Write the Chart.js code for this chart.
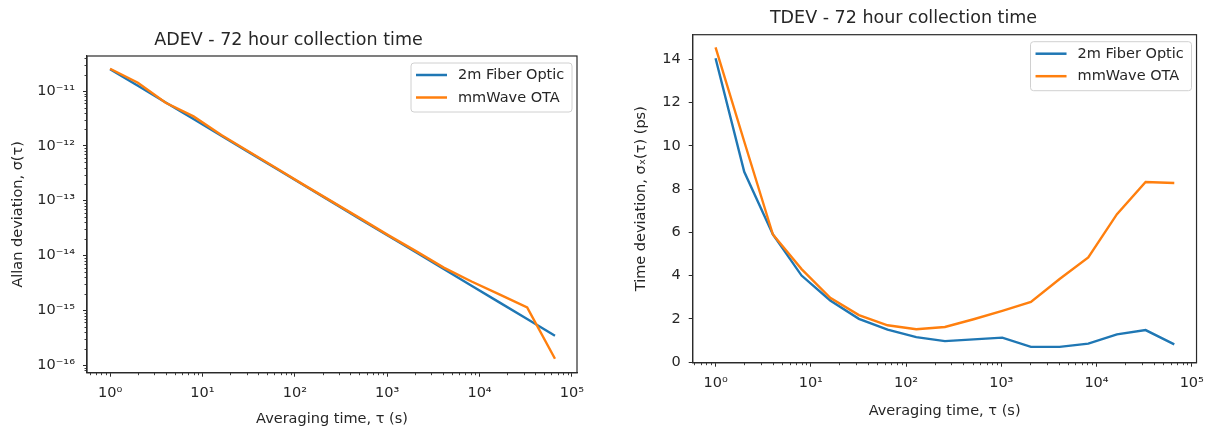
<!DOCTYPE html>
<html>
<head>
<meta charset="utf-8">
<script src="https://cdn.jsdelivr.net/npm/chart.js@4.4.1/dist/chart.umd.min.js"></script>
<style>
  html, body { margin: 0; padding: 0; background: #ffffff; }
  #wrap { position: relative; width: 1212px; height: 430px; overflow: hidden; background: #fff; }
  canvas { position: absolute; top: 0; }
</style>
</head>
<body>
<div id="wrap">
  <canvas id="adev" width="606" height="430" style="left:0px"></canvas>
  <canvas id="tdev" width="606" height="430" style="left:606px"></canvas>
</div>
<script>
// ---------------- data ----------------
const tau = [1, 2, 4, 8, 16, 32, 64, 128, 256, 512, 1024, 2048, 4096, 8192, 16384, 32768, 65536];
const seriesNames = ['2m Fiber Optic', 'mmWave OTA'];

const adevFiber  = [2.51e-11, 1.25e-11, 6.2e-12, 3.08e-12, 1.53e-12, 7.6e-13, 3.77e-13, 1.87e-13, 9.3e-14, 4.6e-14, 2.29e-14, 1.14e-14, 5.65e-15, 2.8e-15, 1.39e-15, 6.9e-16, 3.43e-16];
const adevMmwave = [2.55e-11, 1.42e-11, 6.1e-12, 3.45e-12, 1.58e-12, 7.8e-13, 3.85e-13, 1.9e-13, 9.5e-14, 4.75e-14, 2.35e-14, 1.2e-14, 6.0e-15, 3.35e-15, 1.95e-15, 1.12e-15, 1.3e-16];

const tdevFiber  = [14.05, 8.8, 5.9, 4.0, 2.85, 2.0, 1.5, 1.15, 0.97, 1.05, 1.13, 0.7, 0.7, 0.85, 1.28, 1.48, 0.82];
const tdevMmwave = [14.55, 10.2, 5.9, 4.3, 2.97, 2.17, 1.7, 1.52, 1.62, 1.98, 2.37, 2.78, 3.84, 4.84, 6.84, 8.33, 8.28];

const xTickValues = [1, 10, 100, 1000, 10000, 100000];
const xTickLabels = ['10\u2070', '10\u00B9', '10\u00B2', '10\u00B3', '10\u2074', '10\u2075'];
const adevYTickValues = [1e-16, 1e-15, 1e-14, 1e-13, 1e-12, 1e-11];
const adevYTickLabels = ['10\u207B\u00B9\u2076', '10\u207B\u00B9\u2075', '10\u207B\u00B9\u2074', '10\u207B\u00B9\u00B3', '10\u207B\u00B9\u00B2', '10\u207B\u00B9\u00B9'];
const tdevYTickValues = [0, 2, 4, 6, 8, 10, 12, 14];
const tdevYTickLabels = ['0', '2', '4', '6', '8', '10', '12', '14'];

// ---------------- styling ----------------
const FONT = "'DejaVu Sans', 'Liberation Sans', sans-serif";
const TXT = '#262626';
const AX = '#2a2a2a';
const C0 = '#1f77b4';
const C1 = '#ff7f0e';
Chart.defaults.font.family = FONT;
Chart.defaults.color = TXT;

function pts(xs, ys) { return xs.map((x, i) => ({ x: x, y: ys[i] })); }

function labelFrom(values, labels) {
  return function (v) {
    for (let i = 0; i < values.length; i++) {
      const t = values[i];
      if (t === 0 ? Math.abs(v) < 1e-9 : Math.abs(t - v) <= Math.abs(t) * 1e-6) return labels[i];
    }
    return '';
  };
}

// frame, minor ticks and in-axes legend
const decorPlugin = {
  id: 'decor',
  afterDraw(chart, args, opts) {
    const ctx = chart.ctx;
    const a = chart.chartArea;
    ctx.save();
    // minor ticks on log axes
    ctx.strokeStyle = AX;
    ctx.lineWidth = 0.9;
    const minorLen = 2.5;
    ['x', 'y'].forEach(id => {
      const s = chart.scales[id];
      if (s.type !== 'logarithmic') return;
      const lo = Math.floor(Math.log10(s.min)) - 1;
      const hi = Math.ceil(Math.log10(s.max)) + 1;
      for (let k = lo; k <= hi; k++) {
        for (let m = 2; m <= 9; m++) {
          const v = m * Math.pow(10, k);
          if (v < s.min || v > s.max) continue;
          const p = s.getPixelForValue(v);
          ctx.beginPath();
          if (id === 'x') {
            ctx.moveTo(Math.round(p) + 0.5, a.bottom);
            ctx.lineTo(Math.round(p) + 0.5, a.bottom + minorLen);
          } else {
            ctx.moveTo(a.left, Math.round(p) + 0.5);
            ctx.lineTo(a.left - minorLen, Math.round(p) + 0.5);
          }
          ctx.stroke();
        }
      }
    });
    // frame
    ctx.strokeStyle = AX;
    ctx.lineWidth = 1.2;
    ctx.strokeRect(a.left, a.top, a.right - a.left, a.bottom - a.top);

    // legend
    const w = 161, h = 49;
    const bx = a.right - 5 - w, by = a.top + 7;
    const r = 3;
    ctx.beginPath();
    ctx.moveTo(bx + r, by);
    ctx.lineTo(bx + w - r, by);
    ctx.quadraticCurveTo(bx + w, by, bx + w, by + r);
    ctx.lineTo(bx + w, by + h - r);
    ctx.quadraticCurveTo(bx + w, by + h, bx + w - r, by + h);
    ctx.lineTo(bx + r, by + h);
    ctx.quadraticCurveTo(bx, by + h, bx, by + h - r);
    ctx.lineTo(bx, by + r);
    ctx.quadraticCurveTo(bx, by, bx + r, by);
    ctx.closePath();
    ctx.fillStyle = 'rgba(255,255,255,0.85)';
    ctx.fill();
    ctx.strokeStyle = '#d0d0d0';
    ctx.lineWidth = 1;
    ctx.stroke();
    ctx.font = '14.5px ' + FONT;
    ctx.textBaseline = 'middle';
    ctx.textAlign = 'left';
    chart.data.datasets.forEach((ds, i) => {
      const yy = by + 12 + i * 22.5;
      ctx.strokeStyle = ds.borderColor;
      ctx.lineWidth = 2.5;
      ctx.beginPath();
      ctx.moveTo(bx + 5, yy);
      ctx.lineTo(bx + 36, yy);
      ctx.stroke();
      ctx.fillStyle = TXT;
      ctx.fillText(ds.label, bx + 47, yy + 0.5);
    });
    ctx.restore();
  }
};

function makeChart(canvasId, cfg) {
  return new Chart(document.getElementById(canvasId), {
    type: 'line',
    data: {
      datasets: [
        { label: seriesNames[0], data: pts(tau, cfg.s0), borderColor: C0, backgroundColor: C0, borderWidth: 2.4, pointRadius: 0, tension: 0, fill: false, order: 1 },
        { label: seriesNames[1], data: pts(tau, cfg.s1), borderColor: C1, backgroundColor: C1, borderWidth: 2.4, pointRadius: 0, tension: 0, fill: false, order: 0 }
      ]
    },
    options: {
      responsive: false,
      animation: false,
      events: [],
      layout: { padding: { left: 0, right: cfg.padRight, top: 0, bottom: 0 } },
      plugins: {
        legend: { display: false },
        tooltip: { enabled: false },
        title: {
          display: true,
          text: cfg.title,
          color: TXT,
          font: { size: 17.5, weight: 'normal', family: FONT, lineHeight: 1.2 },
          padding: { top: cfg.titleTop, bottom: cfg.titleBottom }
        }
      },
      scales: {
        x: {
          type: 'logarithmic',
          min: cfg.xMin, max: cfg.xMax,
          afterFit: s => { s.height = cfg.xHeight; },
          afterBuildTicks: s => { s.ticks = xTickValues.map(v => ({ value: v, major: true })); },
          ticks: { autoSkip: false, maxRotation: 0, padding: 8, color: TXT, font: { size: 14.5, family: FONT }, callback: labelFrom(xTickValues, xTickLabels) },
          grid: { display: true, drawOnChartArea: false, drawTicks: true, tickLength: 4, color: AX, tickColor: AX, lineWidth: 1 },
          border: { display: true, color: AX, width: 1.2 },
          title: { display: true, text: 'Averaging time, \u03C4 (s)', color: TXT, font: { size: 14.5, family: FONT, lineHeight: 1.2 }, padding: { top: 0, bottom: cfg.xTitlePad } }
        },
        y: {
          type: cfg.yType,
          min: cfg.yMin, max: cfg.yMax,
          afterFit: s => { s.width = cfg.yWidth; },
          afterBuildTicks: s => { s.ticks = cfg.yTicks.map(v => ({ value: v, major: true })); },
          ticks: { autoSkip: false, padding: 8, color: TXT, font: { size: 14.5, family: FONT }, callback: labelFrom(cfg.yTicks, cfg.yLabels) },
          grid: { display: true, drawOnChartArea: false, drawTicks: true, tickLength: 4, color: AX, tickColor: AX, lineWidth: 1 },
          border: { display: true, color: AX, width: 1.2 },
          title: { display: true, text: cfg.yTitle, color: TXT, font: { size: 14.5, family: FONT, lineHeight: 1.2 }, padding: { top: cfg.yTitlePad, bottom: 0 } }
        }
      }
    },
    plugins: [decorPlugin]
  });
}

makeChart('adev', {
  s0: adevFiber, s1: adevMmwave,
  title: 'ADEV - 72 hour collection time',
  titleTop: 29.5, titleBottom: 5.5,
  padRight: 29,
  xMin: Math.pow(10, -0.25), xMax: Math.pow(10, 5.055),
  xHeight: 57.3, xTitlePad: 2.3,
  yType: 'logarithmic',
  yMin: Math.pow(10, -16.14), yMax: Math.pow(10, -10.36),
  yTicks: adevYTickValues, yLabels: adevYTickLabels,
  yWidth: 87, yTitlePad: 9.3,
  yTitle: 'Allan deviation, \u03C3(\u03C4)'
});

makeChart('tdev', {
  s0: tdevFiber, s1: tdevMmwave,
  title: 'TDEV - 72 hour collection time',
  titleTop: 8, titleBottom: 5.7,
  padRight: 11,
  xMin: Math.pow(10, -0.24), xMax: Math.pow(10, 5.05),
  xHeight: 67.3, xTitlePad: 10.3,
  yType: 'linear',
  yMin: -0.03, yMax: 15.14,
  yTicks: tdevYTickValues, yLabels: tdevYTickLabels,
  yWidth: 86.7, yTitlePad: 26.3,
  yTitle: 'Time deviation, \u03C3\u2093(\u03C4) (ps)'
});
</script>
</body>
</html>
